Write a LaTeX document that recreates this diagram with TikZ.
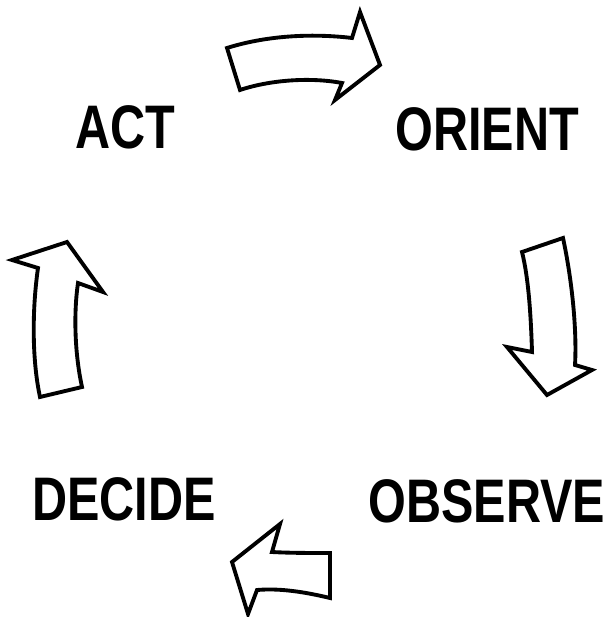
\documentclass[tikz,border=0pt]{standalone}
\usepackage{fontspec}
\setmainfont{Liberation Sans}[FakeStretch=0.79]
\usetikzlibrary{positioning}

\begin{document}
\begin{tikzpicture}[x=0.02cm,y=-0.02cm,
  phase/.style={inner sep=0pt,font=\fontsize{35}{37}\selectfont\bfseries},
  blockarrow/.style={draw,line width=2.2pt,fill=white,line join=miter}]
\useasboundingbox (0,0) rectangle (605,617);

% the four stages
\node[phase] (act) at (125,127) {ACT};
\node[phase] (orient) at (487,129) {ORIENT};
\node[phase] (observe) at (487,501) {OBSERVE};
\node[phase] (decide) at (124,499) {DECIDE};

% act -> orient
\draw[blockarrow] (227,48) .. controls (265,36) and (310,33) .. (352,38)
  -- (360,12) -- (380,65) -- (335,100) -- (342,83)
  .. controls (310,77) and (270,80) .. (240,90) -- cycle;
% orient -> observe
\draw[blockarrow] (522,252) -- (563,238)
  .. controls (572,280) and (577,330) .. (575,365)
  -- (592,370) -- (547,395) -- (507,347) -- (532,352)
  .. controls (531,320) and (529,280) .. cycle;
% observe -> decide
\draw[blockarrow] (330,553) -- (330,598)
  .. controls (305,592) and (280,588) .. (257,590)
  -- (248,614) -- (232,562) -- (280,524) -- (272,552)
  .. controls (290,553) and (310,553) .. cycle;
% decide -> act
\draw[blockarrow] (40,397) -- (82,387)
  .. controls (74,350) and (74,310) .. (78,283)
  -- (103,292) -- (67,242) -- (12,260) -- (38,268)
  .. controls (32,310) and (32,360) .. cycle;
\end{tikzpicture}
\end{document}
